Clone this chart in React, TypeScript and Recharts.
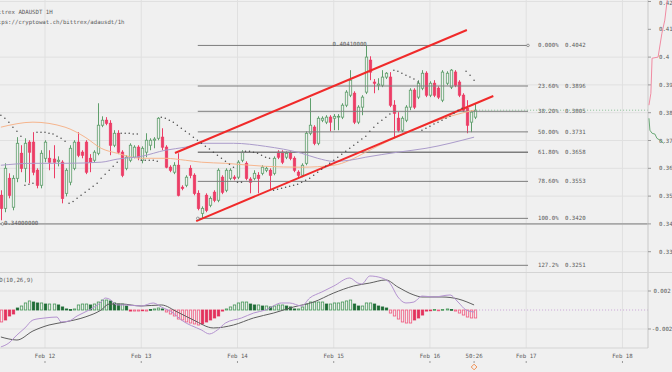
import React from 'react';
import {
  ComposedChart, Bar, Line, Scatter, XAxis, YAxis, CartesianGrid, ReferenceLine, ReferenceDot,
} from 'recharts';

// hours counted from Feb 12 00:00, one candle per hour starting Feb 11 13:00
const FIRST_HOUR = -11;

const opens = [
  0.3503, 0.3456, 0.3564, 0.3460, 0.3564, 0.3654, 0.3600, 0.3694, 0.3694, 0.3593, 0.3539, 0.3636,
  0.3636, 0.3633, 0.3625, 0.3622, 0.3510, 0.3550, 0.3600, 0.3694, 0.3658, 0.3694, 0.3636, 0.3629,
  0.3654, 0.3755, 0.3773, 0.3762, 0.3683, 0.3726, 0.3658, 0.3600, 0.3629, 0.3640, 0.3676, 0.3629,
  0.3658, 0.3683, 0.3701, 0.3708, 0.3712, 0.3676, 0.3604, 0.3586, 0.3611, 0.3532, 0.3539, 0.3600,
  0.3575, 0.3510, 0.3438, 0.3503, 0.3467, 0.3514, 0.3485, 0.3568, 0.3521, 0.3564, 0.3568, 0.3568,
  0.3629, 0.3618, 0.3561, 0.3564, 0.3575, 0.3582, 0.3593, 0.3593, 0.3582, 0.3658, 0.3658, 0.3640,
  0.3654, 0.3636, 0.3586, 0.3575, 0.3618, 0.3726, 0.3748, 0.3690, 0.3773, 0.3766, 0.3784, 0.3780,
  0.3784, 0.3784, 0.3827, 0.3863, 0.3870, 0.3766, 0.3820, 0.3874, 0.3989, 0.3910, 0.3899, 0.3899,
  0.3928, 0.3928, 0.3827, 0.3780, 0.3737, 0.3773, 0.3820, 0.3881, 0.3856, 0.3888, 0.3942, 0.3863,
  0.3906, 0.3888, 0.3845, 0.3906, 0.3892, 0.3946, 0.3910, 0.3863, 0.3816, 0.3766, 0.3784,
];
const highs = [
  0.3521, 0.3618, 0.3582, 0.3575, 0.3712, 0.3683, 0.3708, 0.3701, 0.3730, 0.3600, 0.3665, 0.3701,
  0.3665, 0.3683, 0.3643, 0.3629, 0.3600, 0.3683, 0.3701, 0.3730, 0.3665, 0.3701, 0.3651, 0.3665,
  0.3834, 0.3787, 0.3784, 0.3773, 0.3737, 0.3737, 0.3665, 0.3647, 0.3690, 0.3683, 0.3683, 0.3679,
  0.3726, 0.3708, 0.3712, 0.3784, 0.3744, 0.3683, 0.3611, 0.3622, 0.3654, 0.3539, 0.3575, 0.3611,
  0.3582, 0.3521, 0.3463, 0.3510, 0.3499, 0.3521, 0.3600, 0.3575, 0.3600, 0.3600, 0.3575, 0.3629,
  0.3665, 0.3625, 0.3568, 0.3593, 0.3586, 0.3611, 0.3607, 0.3600, 0.3643, 0.3665, 0.3665, 0.3661,
  0.3661, 0.3643, 0.3593, 0.3618, 0.3733, 0.3852, 0.3755, 0.3787, 0.3787, 0.3791, 0.3791, 0.3795,
  0.3795, 0.3834, 0.3881, 0.3953, 0.3877, 0.3827, 0.3863, 0.4041, 0.4003, 0.3921, 0.3924, 0.3953,
  0.3946, 0.3946, 0.3845, 0.3802, 0.3787, 0.3827, 0.3888, 0.3888, 0.3917, 0.3953, 0.3949, 0.3913,
  0.3917, 0.3895, 0.3953, 0.3949, 0.3957, 0.3953, 0.3917, 0.3870, 0.3845, 0.3809, 0.3831,
];
const lows = [
  0.3413, 0.3442, 0.3492, 0.3449, 0.3550, 0.3586, 0.3550, 0.3546, 0.3575, 0.3528, 0.3528, 0.3622,
  0.3593, 0.3564, 0.3607, 0.3474, 0.3499, 0.3539, 0.3593, 0.3640, 0.3636, 0.3579, 0.3586, 0.3622,
  0.3647, 0.3748, 0.3755, 0.3647, 0.3676, 0.3651, 0.3568, 0.3593, 0.3622, 0.3636, 0.3629, 0.3618,
  0.3640, 0.3665, 0.3672, 0.3701, 0.3665, 0.3600, 0.3586, 0.3579, 0.3499, 0.3521, 0.3532, 0.3564,
  0.3503, 0.3449, 0.3420, 0.3442, 0.3460, 0.3478, 0.3478, 0.3507, 0.3514, 0.3557, 0.3557, 0.3561,
  0.3622, 0.3557, 0.3510, 0.3557, 0.3510, 0.3575, 0.3586, 0.3525, 0.3575, 0.3633, 0.3615, 0.3633,
  0.3629, 0.3586, 0.3564, 0.3568, 0.3611, 0.3719, 0.3683, 0.3683, 0.3766, 0.3759, 0.3733, 0.3737,
  0.3737, 0.3777, 0.3820, 0.3856, 0.3759, 0.3759, 0.3791, 0.3867, 0.3917, 0.3870, 0.3881, 0.3892,
  0.3921, 0.3820, 0.3708, 0.3730, 0.3730, 0.3766, 0.3809, 0.3813, 0.3849, 0.3881, 0.3856, 0.3856,
  0.3856, 0.3849, 0.3838, 0.3899, 0.3885, 0.3892, 0.3856, 0.3802, 0.3726, 0.3730, 0.3777,
];
const closes = [
  0.3456, 0.3600, 0.3503, 0.3564, 0.3690, 0.3600, 0.3690, 0.3658, 0.3586, 0.3539, 0.3654, 0.3694,
  0.3622, 0.3622, 0.3629, 0.3492, 0.3593, 0.3672, 0.3694, 0.3647, 0.3647, 0.3586, 0.3622, 0.3658,
  0.3755, 0.3773, 0.3762, 0.3683, 0.3726, 0.3658, 0.3575, 0.3640, 0.3683, 0.3676, 0.3640, 0.3672,
  0.3701, 0.3701, 0.3705, 0.3780, 0.3676, 0.3604, 0.3593, 0.3611, 0.3503, 0.3528, 0.3568, 0.3575,
  0.3510, 0.3456, 0.3456, 0.3449, 0.3492, 0.3485, 0.3593, 0.3514, 0.3593, 0.3593, 0.3564, 0.3622,
  0.3658, 0.3564, 0.3550, 0.3582, 0.3564, 0.3604, 0.3600, 0.3575, 0.3636, 0.3640, 0.3622, 0.3654,
  0.3636, 0.3593, 0.3575, 0.3611, 0.3726, 0.3755, 0.3690, 0.3780, 0.3780, 0.3784, 0.3766, 0.3787,
  0.3787, 0.3827, 0.3874, 0.3917, 0.3766, 0.3820, 0.3856, 0.4000, 0.3946, 0.3906, 0.3903, 0.3928,
  0.3942, 0.3827, 0.3798, 0.3737, 0.3780, 0.3820, 0.3881, 0.3820, 0.3906, 0.3942, 0.3863, 0.3906,
  0.3863, 0.3856, 0.3946, 0.3942, 0.3953, 0.3899, 0.3863, 0.3809, 0.3755, 0.3802, 0.3809,
];
// parabolic SAR dots, one per candle
const sarValues = [
  0.3791, 0.3780, 0.3766, 0.3748, 0.3733, 0.3715, 0.3539, 0.3543, 0.3546, 0.3730, 0.3730, 0.3730,
  0.3726, 0.3723, 0.3715, 0.3708, 0.3697, 0.3474, 0.3481, 0.3492, 0.3503, 0.3514, 0.3525, 0.3535,
  0.3546, 0.3564, 0.3579, 0.3593, 0.3607, 0.3622, 0.3726, 0.3726, 0.3726, 0.3723, 0.3723, 0.3629,
  0.3629, 0.3629, 0.3629, 0.3625, 0.3784, 0.3780, 0.3773, 0.3766, 0.3755, 0.3744, 0.3733, 0.3723,
  0.3712, 0.3701, 0.3690, 0.3679, 0.3669, 0.3658, 0.3647, 0.3636, 0.3625, 0.3615, 0.3604, 0.3550,
  0.3550, 0.3661, 0.3661, 0.3658, 0.3654, 0.3647, 0.3640, 0.3636, 0.3521, 0.3525, 0.3528, 0.3532,
  0.3535, 0.3539, 0.3543, 0.3550, 0.3557, 0.3564, 0.3575, 0.3586, 0.3597, 0.3607, 0.3618, 0.3629,
  0.3640, 0.3651, 0.3661, 0.3672, 0.3683, 0.3694, 0.3705, 0.3715, 0.3733, 0.3748, 0.3762, 0.3773,
  0.3784, 0.3795, 0.3953, 0.3949, 0.3942, 0.3935, 0.3928, 0.3921, 0.3910, 0.3737, 0.3744, 0.3751,
  0.3759, 0.3766, 0.3773, 0.3780, 0.3787, 0.3798, 0.3809, 0.3816, 0.3949, 0.3935, 0.3917,
];
// MACD histogram, one per candle
const histValues = [
  -0.00126, -0.00105, -0.00063, -0.00042, 0.00021, 0.00042, 0.00074, 0.00095, 0.00084, 0.00074, 0.00074, 0.00063,
  0.00063, 0.00063, 0.00053, 0.00032, 0.00011, 0.00005, 0.00011, 0.00053, 0.00063, 0.00063, 0.00053, 0.00063,
  0.00084, 0.00105, 0.00105, 0.00095, 0.00074, 0.00063, 0.00063, 0.00042, -0.00011, -0.00011, -0.00011, -0.00005,
  -0.00011, 0.00005, 0.00011, 0.00021, 0.00011, -0.00021, -0.00042, -0.00063, -0.00095, -0.00105, -0.00126, -0.00137,
  -0.00147, -0.00158, -0.00147, -0.00126, -0.00105, -0.00084, -0.00063, -0.00011, 0.00011, 0.00032, 0.00053, 0.00074,
  0.00084, 0.00084, 0.00063, 0.00053, 0.00053, 0.00042, 0.00042, 0.00032, 0.00042, 0.00053, 0.00053, 0.00042,
  0.00032, 0.00011, 0.00011, 0.00032, 0.00063, 0.00084, 0.00084, 0.00084, 0.00084, 0.00063, 0.00063, 0.00074,
  0.00074, 0.00084, 0.00095, 0.00105, 0.00063, 0.00042, 0.00042, 0.00074, 0.00074, 0.00063, 0.00042, 0.00032,
  0.00021, -0.00032, -0.00063, -0.00095, -0.00126, -0.00137, -0.00137, -0.00105, -0.00084, -0.00053, -0.00011, -0.00005,
  0.00005, -0.00005, 0.00005, 0.00011, 0.00005, -0.00011, -0.00032, -0.00053, -0.00074, -0.00084, -0.00084,
];

// moving averages (hour, price)
const orangeMaHours = [-11, -3, 5, 10, 14, 18, 24, 30, 35, 39, 45, 55, 64, 72, 76, 80, 86, 91, 96, 101, 107];
const orangeMaValues = [0.3748, 0.3766, 0.3748, 0.3712, 0.3672, 0.3654, 0.3636, 0.3636, 0.3629, 0.3622, 0.3618, 0.3607, 0.3604, 0.3611, 0.3629, 0.3658, 0.3701, 0.3733, 0.3762, 0.3787, 0.3809];
const purpleMaHours = [-11, -3, 5, 14, 18, 24, 30, 35, 39, 47, 55, 64, 68, 72, 76, 80, 88, 95, 107];
const purpleMaValues = [0.3611, 0.3618, 0.3618, 0.3622, 0.3633, 0.3643, 0.3665, 0.3676, 0.3690, 0.3690, 0.3679, 0.3654, 0.3636, 0.3625, 0.3629, 0.3640, 0.3658, 0.3672, 0.3712];

// MACD line and signal line (hour, value)
const macdHours = [-11, -9, -7, -5, -3, 0, 3, 4, 6, 8, 11, 14, 15, 16, 18, 20, 24, 27, 29, 32, 34, 39, 41, 43, 45, 49, 52, 55, 59, 61, 64, 66, 69, 72, 76, 78, 79, 81, 84, 86, 88, 90, 92, 94, 97, 101, 103, 105, 107];
const macdValues = [-0.00389, -0.00347, -0.00263, -0.00189, -0.00105, -0.00084, -0.00074, -0.00126, -0.00116, -0.00063, 0, 0.00084, 0.00126, 0.00116, 0.00053, 0.00053, 0.00042, 0.00074, 0.00032, -0.00032, -0.00105, -0.0021, -0.00252, -0.0021, -0.00137, -0.00084, -0.00032, 0, 0.00074, 0.00074, 0.00042, 0.00126, 0.00189, 0.00252, 0.00337, 0.00284, 0.00274, 0.00358, 0.00337, 0.00284, 0.00137, 0.00074, 0.00084, 0.00147, 0.00137, 0.00158, 0.00084, 0, -0.00021];
const signalHours = [-11, -9, -7, -3, 1, 5, 10, 14, 16, 19, 24, 29, 33, 37, 42, 47, 52, 57, 62, 67, 72, 77, 81, 85, 88, 92, 94, 99, 103, 107];
const signalValues = [-0.00284, -0.00305, -0.00316, -0.00221, -0.00158, -0.00126, -0.00074, 0, 0.00063, 0.00063, 0.00042, 0.00053, -0.00021, -0.00105, -0.00189, -0.00158, -0.00084, -0.00032, 0.00032, 0.00084, 0.00179, 0.00253, 0.00284, 0.00316, 0.00242, 0.00158, 0.00137, 0.00137, 0.00116, 0.00053];

// Fibonacci retracement drawing
const fibPercents = ['0.000%', '23.60%', '38.20%', '50.00%', '61.80%', '78.60%', '100.0%', '127.2%'];
const fibPrices = [0.4042, 0.3896, 0.3805, 0.3731, 0.3658, 0.3553, 0.3420, 0.3251];
const FIB_START = 38.1;
const FIB_END = 120.45;

// trend channel drawing: [hour, price] endpoints
const channelUpper = [[32.4, 0.3655], [105.2, 0.40975]];
const channelLower = [[37.7, 0.3410], [111.8, 0.3860]];

// order book depth on the price scale (depth, price)
const askDepth = [0.4, 1.2, 1.7, 4.2, 5.8, 7.0, 8.0];
const askPrices = [0.3827, 0.3870, 0.3996, 0.4000, 0.4086, 0.4133, 0.4205];
const bidDepth = [0.4, 0.8, 1.7, 2.9, 3.7, 5.0, 6.5];
const bidPrices = [0.3780, 0.3737, 0.3726, 0.3723, 0.3708, 0.3701, 0.3690];

const dayTicks = [0, 24, 48, 72, 96, 120, 144];
const axisTicks = [0, 24, 48, 72, 96, 107, 120, 144];
const axisLabels = ['Feb 12', 'Feb 13', 'Feb 14', 'Feb 15', 'Feb 16', '50:26', 'Feb 17', 'Feb 18'];
const priceTicks = [0.33, 0.34, 0.35, 0.36, 0.37, 0.38, 0.39, 0.4, 0.41, 0.42];
const macdTicks = [-0.002, 0, 0.002];

const X_DOMAIN: [number, number] = [-11.22, 150.37];
const PRICE_DOMAIN: [number, number] = [0.3227, 0.42054];
const MACD_DOMAIN: [number, number] = [-0.004, 0.003895];

const BG = '#f0f0f0';
const GRID = '#e0e0e0';
const TEXT = '#5a5a5a';
const MONO = '"DejaVu Sans Mono", monospace';
const UP = '#5f9f6c';
const DOWN = '#ec3d66';

const candles = opens.map((open, i) => ({
  t: FIRST_HOUR + i,
  open,
  high: highs[i],
  low: lows[i],
  close: closes[i],
  range: [lows[i], highs[i]],
  sar: sarValues[i],
}));
const macdRows = histValues.map((hist, i) => ({ t: FIRST_HOUR + i, hist, prev: i > 0 ? histValues[i - 1] : 0 }));
const orangeMa = orangeMaHours.map((t, i) => ({ t, v: orangeMaValues[i] }));
const purpleMa = purpleMaHours.map((t, i) => ({ t, v: purpleMaValues[i] }));
const macdLine = macdHours.map((t, i) => ({ t, v: macdValues[i] }));
const signalLine = signalHours.map((t, i) => ({ t, v: signalValues[i] }));
const asks = askDepth.map((d, i) => ({ d, p: askPrices[i] }));
const bids = bidDepth.map((d, i) => ({ d, p: bidPrices[i] }));
const lastHour = FIRST_HOUR + closes.length - 1;
const lastClose = closes[closes.length - 1];

const Candle = (props: any) => {
  const { x, width, payload } = props;
  let { y, height } = props;
  if (height < 0) { y += height; height = -height; }
  const { open, close, high, low } = payload;
  const up = close >= open;
  const k = height / (high - low);
  const cx = Math.round(x + width / 2) + 0.5;
  const top = y + (high - Math.max(open, close)) * k;
  const bot = y + (high - Math.min(open, close)) * k;
  const c = up ? UP : DOWN;
  return (
    <g>
      <line x1={cx} x2={cx} y1={y} y2={y + height} stroke={c} strokeWidth={1} />
      <rect x={cx - 1.2} y={top} width={2.4} height={Math.max(0.8, bot - top)}
        fill={up ? BG : c} stroke={c} strokeWidth={0.8} />
    </g>
  );
};

const HistBar = (props: any) => {
  const { x, width, payload } = props;
  let { y, height } = props;
  if (height < 0) { y += height; height = -height; }
  const v = payload.hist;
  const growing = Math.abs(v) >= Math.abs(payload.prev);
  const c = v >= 0 ? (growing ? '#48985a' : '#1f6c36') : (growing ? '#f0587e' : '#e3325d');
  const cx = Math.round(x + width / 2) + 0.5;
  return (
    <rect x={cx - 1.2} y={y} width={2.4} height={Math.max(0.8, height)}
      fill={growing ? BG : c} stroke={c} strokeWidth={0.8} />
  );
};

const SarDot = (props: any) => <circle cx={props.cx} cy={props.cy} r={0.75} fill="#4a4a4a" />;

const fibLabel = (pct: string, price: number) => (props: any) => {
  const vb = props.viewBox || {};
  const x = vb.x + vb.width;
  return (
    <text y={vb.y} fontSize={5.7} fontFamily={MONO} fill={TEXT} dominantBaseline="middle">
      <tspan x={x + 10}>{pct}</tspan>
      <tspan x={x + 37}>{price.toFixed(4)}</tspan>
    </text>
  );
};

const noteLabel = (text: string, anchor: 'start' | 'end', dx: number, dy: number) => (props: any) => {
  const vb = props.viewBox || {};
  return (
    <text x={vb.x + dx} y={vb.y + dy} fontSize={5.7} fontFamily={MONO} fill={TEXT}
      textAnchor={anchor} dominantBaseline="middle">{text}</text>
  );
};

const DateTick = (props: any) => {
  const { x, y, payload } = props;
  const label = axisLabels[axisTicks.indexOf(payload.value)];
  return (
    <g>
      <text x={x} y={y} fontSize={5.7} fontFamily={MONO} fill={TEXT} textAnchor="middle"
        dominantBaseline="middle">{label}</text>
      <line x1={x} x2={x} y1={y + 5} y2={y + 7} stroke="#999" />
    </g>
  );
};

const MacdTick = (props: any) => {
  const { x, y, payload } = props;
  const v = payload.value;
  const label = v === 0 ? '0' : v.toFixed(3);
  return (
    <text x={x + 8} y={y} fontSize={5.7} fontFamily={MONO} fill={TEXT} textAnchor="middle"
      dominantBaseline="middle">{label}</text>
  );
};

const Diamond = (props: any) => (
  <rect x={props.cx - 2} y={props.cy - 2} width={4} height={4} fill="none" stroke="#f08a4b"
    strokeWidth={0.9} transform={`rotate(45 ${props.cx} ${props.cy})`} />
);

export default function App() {
  return (
    <div style={{ position: 'fixed', left: 0, top: 0, width: 672, height: 372, background: BG, overflow: 'hidden' }}>
      <div style={{ position: 'absolute', left: 0, top: 0 }}>
        <ComposedChart width={672} height={272} data={candles} margin={{ top: 0, right: 0, bottom: 0, left: 0 }}>
          <CartesianGrid stroke={GRID} horizontalValues={priceTicks} verticalValues={dayTicks} />
          <XAxis dataKey="t" type="number" domain={X_DOMAIN} hide allowDataOverflow />
          <YAxis orientation="right" width={24} domain={PRICE_DOMAIN} ticks={priceTicks} allowDataOverflow
            axisLine={{ stroke: '#c8c8c8' }} tickLine={{ stroke: '#999' }} tickSize={3} tickMargin={8}
            tick={{ fontSize: 5.7, fontFamily: MONO, fill: TEXT }}
            tickFormatter={(v: number) => String(Number(v.toFixed(2)))} />
          {fibPrices.map((p, i) => (
            <ReferenceLine key={fibPercents[i]} segment={[{ x: FIB_START, y: p }, { x: FIB_END, y: p }]}
              stroke="#7d7d7d" strokeWidth={i === 4 ? 1.6 : 1} label={fibLabel(fibPercents[i], p)} />
          ))}
          <ReferenceLine y={0.34} stroke="#a8a8a8" strokeWidth={1.6}
            label={noteLabel('0.34000000', 'start', 4, 0)} />
          <ReferenceDot x={-10.6} y={0.34} r={1.3} fill={BG} stroke="#777" strokeWidth={0.7} />
          <ReferenceDot x={FIB_END} y={fibPrices[0]} r={1.3} fill={BG} stroke="#777" strokeWidth={0.7} />
          <ReferenceDot x={FIB_START} y={fibPrices[6]} r={1.3} fill={BG} stroke="#777" strokeWidth={0.7} />
          <ReferenceDot x={80} y={0.4041} r={0} label={noteLabel('0.40410000', 'end', 1, -1.5)} />
          <ReferenceLine segment={[{ x: lastHour + 0.5, y: lastClose }, { x: X_DOMAIN[1], y: lastClose }]}
            stroke="#8cbf98" strokeDasharray="1 2" />
          <Line data={orangeMa} dataKey="v" type="monotone" stroke="#f6b58d" strokeWidth={1} dot={false}
            activeDot={false} isAnimationActive={false} />
          <Line data={purpleMa} dataKey="v" type="monotone" stroke="#ab9ccb" strokeWidth={1} dot={false}
            activeDot={false} isAnimationActive={false} />
          <Scatter dataKey="sar" shape={SarDot} isAnimationActive={false} />
          <Bar dataKey="range" barSize={3} shape={Candle} activeBar={false} isAnimationActive={false} />
          <ReferenceLine segment={channelUpper.map(([x, y]) => ({ x, y }))} stroke="#f02a2a" strokeWidth={2} />
          <ReferenceLine segment={channelLower.map(([x, y]) => ({ x, y }))} stroke="#f02a2a" strokeWidth={2} />
        </ComposedChart>
      </div>

      <div style={{ position: 'absolute', left: 648, top: 0 }}>
        <ComposedChart width={24} height={272} margin={{ top: 0, right: 0, bottom: 0, left: 0 }}>
          <XAxis dataKey="d" type="number" domain={[0, 10]} hide />
          <YAxis type="number" domain={PRICE_DOMAIN} hide allowDataOverflow />
          <Line data={asks} dataKey="p" type="linear" stroke="#f08ba2" strokeWidth={1} dot={false}
            activeDot={false} isAnimationActive={false} />
          <Line data={bids} dataKey="p" type="linear" stroke="#6aa877" strokeWidth={1} dot={false}
            activeDot={false} isAnimationActive={false} />
        </ComposedChart>
      </div>

      <div style={{ position: 'absolute', left: 0, top: 272, width: 672, borderTop: '1px solid #d4d4d4' }} />
      <div style={{ position: 'absolute', left: 0, top: 273 }}>
        <ComposedChart width={672} height={99} data={macdRows} margin={{ top: 0, right: 0, bottom: 0, left: 0 }}>
          <CartesianGrid stroke={GRID} horizontalValues={macdTicks} verticalValues={dayTicks} />
          <XAxis dataKey="t" type="number" domain={X_DOMAIN} ticks={axisTicks} allowDataOverflow height={24}
            tick={DateTick} tickLine={false} axisLine={{ stroke: '#d4d4d4' }} tickSize={6} tickMargin={2}
            interval={0} />
          <YAxis orientation="right" width={24} domain={MACD_DOMAIN} ticks={macdTicks} allowDataOverflow
            axisLine={{ stroke: '#c8c8c8' }} tickLine={{ stroke: '#999' }} tickSize={3} tickMargin={3}
            tick={MacdTick} />
          <ReferenceLine segment={[{ x: lastHour + 0.5, y: 0 }, { x: X_DOMAIN[1], y: 0 }]}
            stroke="#c9a3d6" strokeDasharray="1 2" />
          <Bar dataKey="hist" barSize={3} shape={HistBar} activeBar={false} isAnimationActive={false} />
          <Line data={signalLine} dataKey="v" type="monotone" stroke="#5e5e5e" strokeWidth={1} dot={false}
            activeDot={false} isAnimationActive={false} />
          <Line data={macdLine} dataKey="v" type="monotone" stroke="#b493d0" strokeWidth={1} dot={false}
            activeDot={false} isAnimationActive={false} />
          <ReferenceDot x={lastHour} y={-0.006} r={2} ifOverflow="visible" shape={Diamond} />
        </ComposedChart>
      </div>

      <div style={{ position: 'absolute', left: -9, top: 7, fontFamily: MONO, fontSize: 5.7, color: TEXT, lineHeight: '10px', whiteSpace: 'pre' }}>
        <div>Bittrex ADAUSDT 1H</div>
        <div>https://cryptowat.ch/bittrex/adausdt/1h</div>
      </div>
      <div style={{ position: 'absolute', left: -11, top: 277, fontFamily: MONO, fontSize: 5.7, color: TEXT, whiteSpace: 'pre' }}>
        MACD(10,26,9)
      </div>
    </div>
  );
}
